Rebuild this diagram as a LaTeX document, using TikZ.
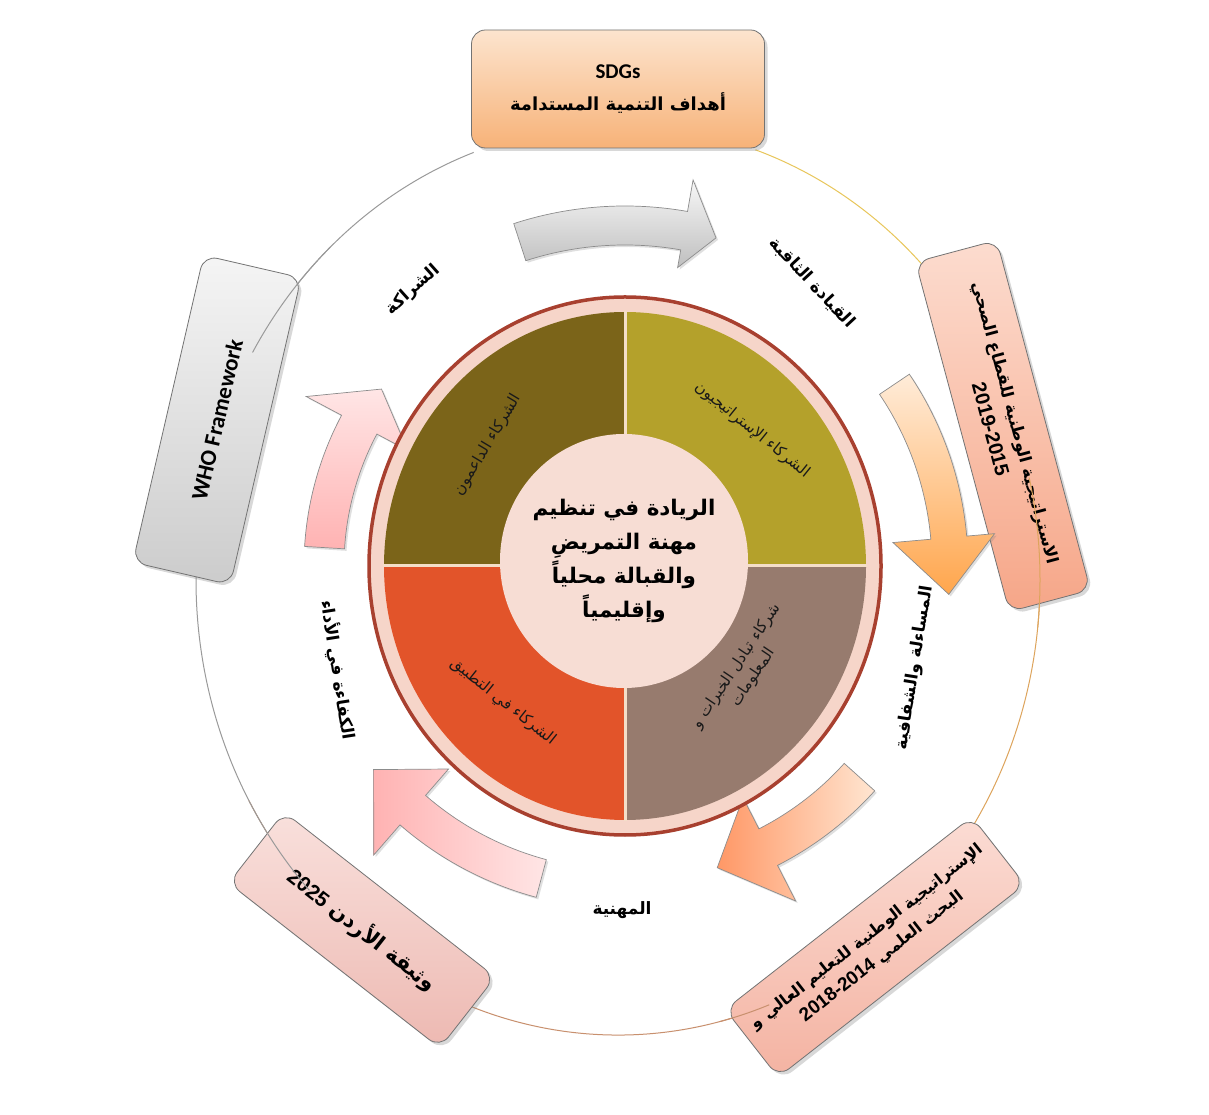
\documentclass[tikz,border=0pt]{standalone}
\usepackage{fontspec}
\setmainfont{DejaVu Sans}
\newfontfamily\arfont[Script=Arabic]{DejaVu Sans}
\newfontfamily\latfont{Carlito}
\newfontfamily\numfont{Liberation Sans}
\TeXXeTstate=1
\usetikzlibrary{shadows,calc}
\newcommand\arl[1]{\beginR#1\endR}
\definecolor{qtl}{HTML}{7B6419}
\definecolor{qtr}{HTML}{B4A12B}
\definecolor{qbr}{HTML}{977B6E}
\definecolor{qbl}{HTML}{E2542A}
\definecolor{ringpink}{HTML}{F6D5C9}
\definecolor{ringred}{HTML}{A8402F}
\definecolor{cpink}{HTML}{F7DDD4}
\definecolor{divcol}{HTML}{F4DEC8}
\definecolor{lgray}{HTML}{9A9A9A}
\definecolor{lgold}{HTML}{E8C65A}
\definecolor{ltan}{HTML}{DDA45C}
\definecolor{lbrown}{HTML}{C8906E}
\definecolor{sdgtop}{HTML}{FCE4CE}
\definecolor{sdgbot}{HTML}{F7B278}
\definecolor{hstop}{HTML}{FCDCCF}
\definecolor{hsbot}{HTML}{F6A688}
\definecolor{hetop}{HTML}{FBDCD4}
\definecolor{hebot}{HTML}{F4B3A2}
\definecolor{jotop}{HTML}{F9E0DC}
\definecolor{jobot}{HTML}{EDB9B2}
\newcommand\carrow[8]{%
  \pgfmathsetmacro\ca{#5-#7}\pgfmathsetmacro\cb{#6+#8}\pgfmathsetmacro\cm{(#5+#6)/2}%
  \draw[#1] ($(O)+(#2:#6)$) arc[start angle=#2,end angle=#3,radius=#6]
    -- ($(O)+(#3:\cb)$) -- ($(O)+(#4:\cm)$) -- ($(O)+(#3:\ca)$) -- ($(O)+(#3:#5)$)
    arc[start angle=#3,end angle=#2,radius=#5] -- cycle;}
\tikzset{
  box/.style={draw=black!55, line width=0.8pt, rounded corners=14pt,
    drop shadow={opacity=0.3, shadow xshift=3pt, shadow yshift=-3pt},
    align=center, inner sep=4pt},
  lab/.style={font=\arfont\bfseries\fontsize{17}{20}\selectfont, inner sep=1pt},
  qlab/.style={font=\arfont\fontsize{15.5}{20}\selectfont, align=center, inner sep=1pt, text=black!90},
  arr/.style={draw=black!45, line width=0.7pt,
    drop shadow={opacity=0.25, shadow xshift=2pt, shadow yshift=-2pt}},
  ell/.style={line width=1pt},
}
\begin{document}
\begin{tikzpicture}[x=1pt,y=1pt]
\useasboundingbox (0,0) rectangle (1209,1114);
\fill[white] (0,0) rectangle (1209,1114);
\coordinate (E) at (618,534);
\coordinate (O) at (625,548);
% outer ellipse
\draw[ell, lgray] ($(E)+(110:422 and 455)$) arc[start angle=110,end angle=209,x radius=422,y radius=455];
\draw[ell, lbrown] ($(E)+(209:422 and 455)$) arc[start angle=209,end angle=290,x radius=422,y radius=455];
\draw[ell, ltan] ($(E)+(-70:422 and 455)$) arc[start angle=-70,end angle=5,x radius=422,y radius=455];
\draw[ell, lgold] ($(E)+(5:422 and 455)$) arc[start angle=5,end angle=71,x radius=422,y radius=455];
% boxes
\node[box, top color=sdgtop, bottom color=sdgbot, minimum width=293, minimum height=118,
      font=\fontsize{18}{32}\selectfont] (sdg) at (618,1025)
  {{\latfont\bfseries\fontsize{21}{32}\selectfont SDGs}\\
   {\arfont\bfseries\arl{أهداف التنمية المستدامة}}};
\node[box, top color=black!4, bottom color=black!20, minimum width=315, minimum height=100, rotate=77] (who) at (217,694)
  {\latfont\bfseries\fontsize{23}{28}\selectfont WHO Framework};
\node[box, top color=hstop, bottom color=hsbot, minimum width=362, minimum height=84, rotate=-75,
      font=\fontsize{16.5}{27}\selectfont] (hs) at (1003,688)
  {{\arfont\bfseries\arl{الاستراتيجية الوطنية للقطاع الصحي}}\\
   {\numfont\bfseries\fontsize{20}{27}\selectfont 2019-2015}};
\node[box, top color=hetop, bottom color=hebot, minimum width=313, minimum height=86, rotate=38,
      font=\fontsize{16}{25}\selectfont] (he) at (875,167)
  {{\arfont\bfseries\arl{الإستراتيجية الوطنية للتعليم العالي و}}\\
   {\arfont\bfseries\arl{البحث العلمي {\numfont\bfseries\fontsize{19}{25}\selectfont\beginL 2018-2014\endL}}}};
\node[box, top color=jotop, bottom color=jobot, minimum width=268, minimum height=90, rotate=-38] (jo) at (362,184)
  {\arfont\bfseries\fontsize{21}{24}\selectfont\arl{وثيقة الأردن {\numfont\bfseries\beginL 2025\endL}}};
% ellipse segments over boxes
\draw[ell, lgray] ($(E)+(133:422 and 455)$) arc[start angle=133,end angle=150,x radius=422,y radius=455];
\draw[ell, lgray] ($(E)+(209:422 and 455)$) arc[start angle=209,end angle=223,x radius=422,y radius=455];
\draw[ell, lbrown] ($(E)+(284:422 and 455)$) arc[start angle=284,end angle=291,x radius=422,y radius=455];
\draw[ell, ltan] ($(E)+(13:422 and 455)$) arc[start angle=13,end angle=-6,x radius=422,y radius=455];
% arrows
\carrow{arr, top color=black!3, bottom color=black!25}{108}{80}{74.5}{321}{360}{18}{32}
\carrow{arr, top color=orange!15, bottom color=orange!70}{34}{5}{-5}{307}{343}{38}{28}
\carrow{arr, left color=red!35!orange!60, right color=red!12!orange!18}{-42}{-63}{-73}{295}{336}{35}{40}
\carrow{arr, left color=red!30, right color=red!10}{-105}{-131}{-141}{304}{343}{35}{40}
\carrow{arr, top color=red!10, bottom color=red!30}{176.5}{152}{144}{281}{321}{35}{40}
% ring and quadrants
\filldraw[fill=ringpink, draw=ringred, line width=3.5pt] (O) ellipse[x radius=256, y radius=269];
\fill[qtl] (O) -- ++(0,254) arc[start angle=90,end angle=180,x radius=241,y radius=254] -- cycle;
\fill[qtr] (O) -- ++(241,0) arc[start angle=0,end angle=90,x radius=241,y radius=254] -- cycle;
\fill[qbr] (O) -- ++(0,-254) arc[start angle=270,end angle=360,x radius=241,y radius=254] -- cycle;
\fill[qbl] (O) -- ++(-241,0) arc[start angle=180,end angle=270,x radius=241,y radius=254] -- cycle;
\draw[divcol, line width=3pt] ($(O)+(0,255)$) -- ($(O)+(0,-255)$);
\draw[divcol, line width=3pt] ($(O)+(-242,0)$) -- ($(O)+(242,0)$);
\fill[cpink] (624,553) ellipse[x radius=124, y radius=127];
\node[font=\arfont\bfseries\fontsize{21.5}{34}\selectfont, align=center] (ctext) at (624,553)
  {\arl{الريادة في تنظيم}\\ \arl{مهنة التمريضِ}\\ \arl{والقبالة محلياً}\\ \arl{وإقليمياً}};
% quadrant labels
\node[qlab, rotate=59] (q1) at (488,669) {\arl{الشركاء الداعمون}};
\node[qlab, rotate=-39] (q2) at (752,684) {\arl{الشركاء الإستراتيجيون}};
\node[qlab, rotate=56] (q3) at (745,442) {\arl{شركاء تبادل الخبرات و}\\ \arl{المعلومات}};
\node[qlab, rotate=-38.5] (q4) at (503,412) {\arl{الشركاء في التطبيق}};
% outer labels
\node[lab, rotate=42] (l1) at (413,824) {\arl{الشراكة}};
\node[lab, rotate=-47] (l2) at (812,831) {\arl{القيادة الثاقبة}};
\node[lab, rotate=81] (l3) at (915,446) {\arl{المساءلة والشفافية}};
\node[lab] (l4) at (622,204) {\arl{المهنية}};
\node[lab, rotate=-81] (l5) at (338,444) {\arl{الكفاءة في الأداء}};
\end{tikzpicture}
\end{document}
